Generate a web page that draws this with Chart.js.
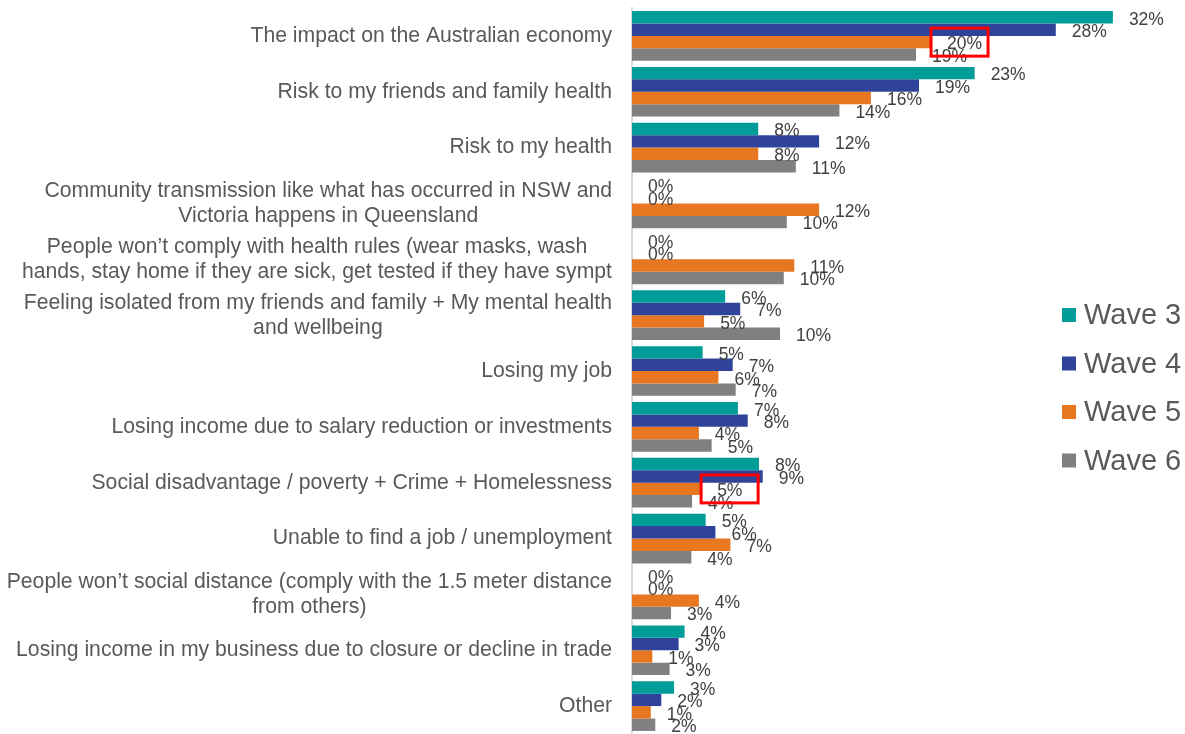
<!DOCTYPE html>
<html>
<head>
<meta charset="utf-8">
<script src="https://cdn.jsdelivr.net/npm/chart.js@4/dist/chart.umd.min.js"></script>
<style>
  body { margin: 0; background: #fff; }
  #wrap { width: 1185px; height: 734px; position: relative; }
</style>
</head>
<body>
<div id="wrap"><canvas id="myChart"></canvas></div>
<script>
const categories = [
  "The impact on the Australian economy",
  "Risk to my friends and family health",
  "Risk to my health",
  ["Community transmission like what has occurred in NSW and", "Victoria happens in Queensland"],
  ["People won\u2019t comply with health rules (wear masks, wash", "hands, stay home if they are sick, get tested if they have sympt"],
  ["Feeling isolated from my friends and family + My mental health", "and wellbeing"],
  "Losing my job",
  "Losing income due to salary reduction or investments",
  "Social disadvantage / poverty + Crime + Homelessness",
  "Unable to find a job / unemployment",
  ["People won\u2019t social distance (comply with the 1.5 meter distance", "from others)"],
  "Losing income in my business due to closure or decline in trade",
  "Other"
];
const seriesNames = ["Wave 3", "Wave 4", "Wave 5", "Wave 6"];
const wave3 = [32.0, 22.8, 8.4, 0, 0, 6.2, 4.7, 7.05, 8.45, 4.9, 0, 3.5, 2.8];
const wave4 = [28.2, 19.1, 12.45, 0, 0, 7.2, 6.7, 7.7, 8.7, 5.55, 0, 3.1, 1.95];
const wave5 = [19.9, 15.9, 8.4, 12.45, 10.8, 4.8, 5.75, 4.45, 4.6, 6.55, 4.45, 1.35, 1.25];
const wave6 = [18.9, 13.8, 10.9, 10.3, 10.1, 9.85, 6.9, 5.3, 4.0, 3.95, 2.6, 2.5, 1.55];
const colors = ['#009C98', '#2E4399', '#E87722', '#808080'];
// labels boxed in red in the original: [series, category]
const boxed = [[2, 0], [2, 8]];

const FONT = '"Liberation Sans", Arial, sans-serif';

const drawExtras = {
  id: 'drawExtras',
  afterDatasetsDraw(chart) {
    const ctx = chart.ctx;
    ctx.save();
    // value labels
    ctx.font = '17.5px ' + FONT;
    ctx.fillStyle = '#404040';
    ctx.textAlign = 'left';
    ctx.textBaseline = 'middle';
    chart.data.datasets.forEach((ds, di) => {
      chart.getDatasetMeta(di).data.forEach((el, i) => {
        ctx.fillText(Math.round(ds.data[i]) + '%', el.x + 16, el.y + 2.5);
      });
    });
    // red boxes
    ctx.strokeStyle = '#ff0000';
    ctx.lineWidth = 3;
    boxed.forEach(([di, i]) => {
      const el = chart.getDatasetMeta(di).data[i];
      ctx.strokeRect(el.x, el.y - 14, 57, 28);
    });
    ctx.restore();
  },
  afterDraw(chart) {
    const ctx = chart.ctx;
    const y = chart.scales.y;
    ctx.save();
    // category labels, multi-line ones centred on their widest line
    ctx.font = '21.2px ' + FONT;
    ctx.fillStyle = '#595959';
    ctx.textAlign = 'center';
    ctx.textBaseline = 'middle';
    categories.forEach((lab, i) => {
      const lines = Array.isArray(lab) ? lab : [lab];
      const w = Math.max(...lines.map(l => ctx.measureText(l).width));
      const cx = y.right - 20 - w / 2;
      const cy = y.getPixelForTick(i);
      lines.forEach((l, k) => ctx.fillText(l, cx, cy + (k - (lines.length - 1) / 2) * 25));
    });
    // legend
    ctx.font = '29px ' + FONT;
    ctx.textAlign = 'left';
    chart.data.datasets.forEach((ds, di) => {
      const cy = 315 + di * 48.5;
      ctx.fillStyle = ds.backgroundColor;
      ctx.fillRect(1062, cy - 7, 14, 14);
      ctx.fillStyle = '#595959';
      ctx.fillText(ds.label, 1084, cy + 1);
    });
    ctx.restore();
  }
};

const ctx = document.getElementById('myChart');
new Chart(ctx, {
  type: 'bar',
  data: {
    labels: categories,
    datasets: [wave3, wave4, wave5, wave6].map((d, i) => ({
      label: seriesNames[i],
      data: d,
      backgroundColor: colors[i],
      borderWidth: 0,
      categoryPercentage: 0.89,
      barPercentage: 1
    }))
  },
  options: {
    indexAxis: 'y',
    responsive: true,
    maintainAspectRatio: false,
    animation: false,
    layout: { padding: { top: 8, bottom: 0, left: 0, right: 12 } },
    plugins: { legend: { display: false }, tooltip: { enabled: false } },
    scales: {
      x: { display: false, min: 0, max: 36 },
      y: {
        ticks: { display: false },
        grid: { display: true, drawOnChartArea: false, drawTicks: false },
        border: { display: true, color: '#d9d9d9', width: 2 },
        afterFit: (scale) => { scale.width = 632; }
      }
    }
  },
  plugins: [drawExtras]
});
</script>
</body>
</html>
